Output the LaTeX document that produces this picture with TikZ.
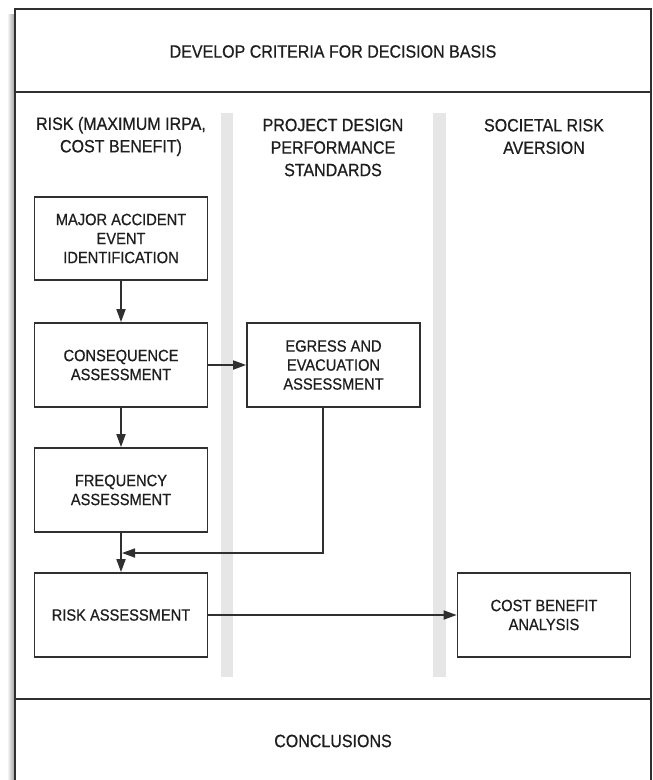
\documentclass[tikz,border=0pt]{standalone}
\usepackage{fontspec}
\setmainfont{Liberation Sans}
\newfontfamily\condf[FakeStretch=0.9,FakeBold=0.6]{Liberation Sans}
\usetikzlibrary{arrows.meta}
\definecolor{linec}{HTML}{303030}
\definecolor{textc}{HTML}{1E1E1E}
\definecolor{lanec}{HTML}{E6E6E6}
\begin{document}
\begin{tikzpicture}[x=1pt,y=-1pt,
  line/.style={draw=linec, line width=1.7pt},
  box/.style={draw=linec, line width=1.7pt, minimum width=173pt, minimum height=84pt,
    align=center, font=\condf\fontsize{16.3}{19}\selectfont, text=textc, inner sep=0pt},
  hdr/.style={align=center, font=\condf\fontsize{17.8}{22.5}\selectfont, text=textc, inner sep=0pt},
  arr/.style={line, -{Triangle[length=13pt,width=9pt]}},
  lane/.style={fill=lanec, draw=none}]
\useasboundingbox (0,0) rectangle (653,780);
\clip (0,0) rectangle (653,780);
% shadow and frame
\shade[left color=white, right color=black!40] (7,14) rectangle (15,790);
\fill[white] (15,9) rectangle (651,790);
\draw[line] (15,790) -- (15,9) -- (651,9) -- (651,790);
\draw[line] (15,92) -- (651,92);
\draw[line] (15,699) -- (651,699);
% lanes
\fill[lane] (221,113) rectangle (233,677);
\fill[lane] (433,113) rectangle (446,677);
% headers
\node[hdr] (top) at (333,51.5) {DEVELOP CRITERIA FOR DECISION BASIS};
\node[hdr] (conc) at (333,741) {CONCLUSIONS};
\node[hdr] (hA) at (121,136.5) {RISK (MAXIMUM IRPA,\\COST BENEFIT)};
\node[hdr] (hB) at (333,147.5) {PROJECT DESIGN\\PERFORMANCE\\STANDARDS};
\node[hdr] (hC) at (544,136.5) {SOCIETAL RISK\\AVERSION};
% boxes
\node[box, minimum height=83pt] (major) at (121,238.5) {MAJOR ACCIDENT\\EVENT\\IDENTIFICATION};
\node[box] (cons) at (121,365) {CONSEQUENCE\\ASSESSMENT};
\node[box] (egress) at (333.5,365) {EGRESS AND\\EVACUATION\\ASSESSMENT};
\node[box] (freq) at (121,490) {FREQUENCY\\ASSESSMENT};
\node[box] (risk) at (121,615) {RISK ASSESSMENT};
\node[box] (cost) at (544,615) {COST BENEFIT\\ANALYSIS};
\coordinate (j) at (122,553);
% connectors
\draw[arr] (major) -- (cons);
\draw[arr] (cons) -- (egress);
\draw[arr] (cons) -- (freq);
\draw[arr] (freq) -- (risk);
\draw[arr] ([xshift=-10.5pt]egress.south) |- (j);
\draw[arr] (risk) -- (cost);
\end{tikzpicture}
\end{document}
